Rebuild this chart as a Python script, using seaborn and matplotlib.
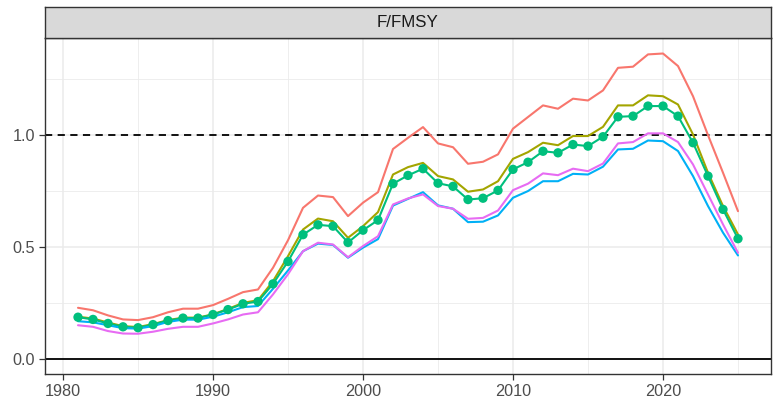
import numpy as np
import pandas as pd
import matplotlib
matplotlib.use("Agg")
import matplotlib.pyplot as plt
from matplotlib.ticker import MultipleLocator
import seaborn as sns

years = list(range(1981, 2026))

red = [0.228, 0.217, 0.194, 0.176, 0.173, 0.186, 0.208, 0.224, 0.224, 0.240,
       0.268, 0.298, 0.310, 0.407, 0.530, 0.675, 0.730, 0.723, 0.638, 0.698,
       0.745, 0.938, 0.988, 1.036, 0.963, 0.946, 0.872, 0.881, 0.914, 1.029,
       1.081, 1.133, 1.118, 1.163, 1.155, 1.200, 1.301, 1.306, 1.361, 1.365,
       1.309, 1.174, 1.000, 0.832, 0.660]
olive = [0.188, 0.180, 0.162, 0.146, 0.142, 0.155, 0.173, 0.184, 0.184, 0.199,
         0.223, 0.250, 0.262, 0.347, 0.459, 0.578, 0.627, 0.615, 0.541, 0.593,
         0.656, 0.824, 0.857, 0.876, 0.817, 0.802, 0.747, 0.757, 0.794, 0.894,
         0.924, 0.966, 0.955, 0.996, 0.996, 1.037, 1.133, 1.133, 1.178, 1.174,
         1.137, 1.003, 0.832, 0.683, 0.556]
green = [0.186, 0.176, 0.158, 0.143, 0.139, 0.153, 0.171, 0.182, 0.182, 0.198,
         0.220, 0.246, 0.256, 0.335, 0.435, 0.555, 0.599, 0.593, 0.520, 0.575,
         0.620, 0.783, 0.820, 0.850, 0.785, 0.771, 0.712, 0.718, 0.753, 0.847,
         0.879, 0.928, 0.921, 0.958, 0.951, 0.993, 1.082, 1.085, 1.130, 1.130,
         1.085, 0.966, 0.817, 0.668, 0.537]
blue = [0.168, 0.163, 0.150, 0.137, 0.135, 0.146, 0.165, 0.175, 0.175, 0.188,
        0.208, 0.231, 0.236, 0.313, 0.395, 0.481, 0.515, 0.509, 0.452, 0.497,
        0.535, 0.685, 0.715, 0.745, 0.686, 0.671, 0.611, 0.613, 0.641, 0.720,
        0.750, 0.794, 0.794, 0.827, 0.824, 0.859, 0.936, 0.939, 0.976, 0.973,
        0.929, 0.817, 0.683, 0.564, 0.462]
magenta = [0.150, 0.143, 0.124, 0.113, 0.112, 0.121, 0.134, 0.143, 0.143, 0.158,
           0.176, 0.198, 0.208, 0.288, 0.378, 0.481, 0.519, 0.511, 0.454, 0.504,
           0.548, 0.690, 0.717, 0.735, 0.683, 0.671, 0.626, 0.630, 0.663, 0.754,
           0.783, 0.829, 0.821, 0.850, 0.839, 0.873, 0.963, 0.969, 1.008, 1.008,
           0.969, 0.869, 0.735, 0.601, 0.474]

series_names = ["Run 1", "Run 2", "Run 3", "Run 4", "Run 5"]
series_values = [red, olive, green, blue, magenta]
palette = ["#F8766D", "#A3A500", "#00BF7D", "#00B0F6", "#E76BF3"]
strip_label = "F/FMSY"
x_ticks = [1980, 1990, 2000, 2010, 2020]
y_ticks = [0.0, 0.5, 1.0]
y_tick_labels = ["0.0", "0.5", "1.0"]
ref_line = 1.0

df = pd.DataFrame({
    "year": np.tile(years, len(series_names)),
    "value": np.concatenate(series_values),
    "run": np.repeat(series_names, len(years)),
})

sns.set_theme(style="white")
plt.rcParams["font.family"] = ["Liberation Sans", "DejaVu Sans"]

W, H = 779, 401
fig = plt.figure(figsize=(W / 100, H / 100), dpi=100)
L, R, T, B = 45, 771, 38.3, 374
ax = fig.add_axes([L / W, 1 - B / H, (R - L) / W, (B - T) / H])

ax.set_xlim(1978.8, 2027.2)
ax.set_ylim(-0.068, 1.433)

ax.xaxis.set_minor_locator(MultipleLocator(5))
ax.yaxis.set_minor_locator(MultipleLocator(0.25))
ax.set_xticks(x_ticks)
ax.set_yticks(y_ticks)
ax.set_yticklabels(y_tick_labels)
ax.grid(which="major", color="#EBEBEB", linewidth=1.1, zorder=0)
ax.grid(which="minor", color="#EBEBEB", linewidth=0.6, zorder=0)
ax.set_axisbelow(True)

ax.axhline(0.0, color="black", linewidth=1.3, zorder=1)
ax.axhline(ref_line, color="black", linewidth=1.3, linestyle=(0, (4, 3)), zorder=1)

sns.lineplot(data=df, x="year", y="value", hue="run", hue_order=series_names,
             palette=palette, linewidth=1.5, legend=False, ax=ax, zorder=2)
gdf = df[df["run"] == series_names[2]]
sns.scatterplot(data=gdf, x="year", y="value", color=palette[2], s=45,
                edgecolor="none", legend=False, ax=ax, zorder=3)

ax.set_xlabel("")
ax.set_ylabel("")
for sp in ax.spines.values():
    sp.set_color("#333333")
    sp.set_linewidth(1.0)
ax.tick_params(axis="both", which="major", length=4, width=0.9, color="#333333",
               labelcolor="#4D4D4D", labelsize=11.7, pad=3, bottom=True, left=True)
ax.tick_params(which="minor", length=0)

# facet strip
sax = fig.add_axes([L / W, 1 - 38.3 / H, (R - L) / W, (38.3 - 7) / H])
sax.set_xlim(0, 1)
sax.set_ylim(0, 1)
sax.set_facecolor("#D9D9D9")
sax.set_xticks([])
sax.set_yticks([])
for sp in sax.spines.values():
    sp.set_color("#333333")
    sp.set_linewidth(1.0)
sax.text(0.5, 0.5, strip_label, ha="center", va="center", fontsize=12.2,
         color="#1A1A1A")

fig.savefig("out.png", dpi=100)
